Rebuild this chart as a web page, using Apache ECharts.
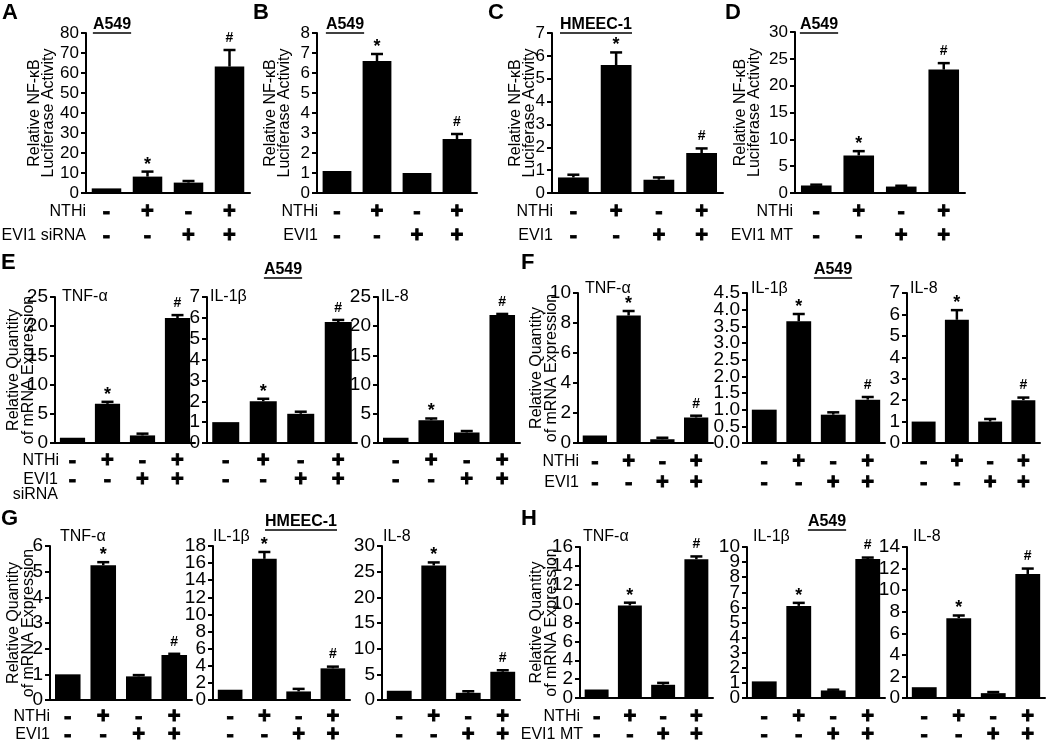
<!DOCTYPE html>
<html><head><meta charset="utf-8">
<script src="https://cdn.jsdelivr.net/npm/echarts@6/dist/echarts.min.js"></script>
<style>html,body{margin:0;padding:0;background:#fff}#c{width:1050px;height:740px}</style>
</head><body><div id="c"></div>
<script>
// ---------- DATA ----------
const nthi = ['-', '+', '-', '+'];
const evi1 = ['-', '-', '+', '+'];
const marks = ['', '*', '', '#'];
const genes = ['TNF-α', 'IL-1β', 'IL-8'];
const lucName = 'Relative NF-κB\nLuciferase Activity';
const mrnaName = 'Relative Quantity\nof mRNA Expression';

// Panel A (A549, EVI1 siRNA) luciferase
const aVals = [2.3, 8.2, 5.2, 63.2];   const aErr = [0, 2.5, 0.8, 8.3];
// Panel B (A549, EVI1)
const bVals = [1.1, 6.6, 1.0, 2.7];    const bErr = [0, 0.35, 0, 0.25];
// Panel C (HMEEC-1, EVI1)
const cVals = [0.68, 5.6, 0.58, 1.75]; const cErr = [0.12, 0.55, 0.1, 0.2];
// Panel D (A549, EVI1 MT)
const dVals = [1.4, 7.0, 1.2, 23.0];   const dErr = [0.15, 0.8, 0.15, 1.2];
// Panel E (A549, EVI1 siRNA) TNF-α, IL-1β, IL-8
const e1Vals = [0.9, 6.7, 1.3, 21.4];  const e1Err = [0, 0.35, 0.3, 0.5];
const e2Vals = [1.0, 2.0, 1.4, 5.8];   const e2Err = [0, 0.12, 0.1, 0.1];
const e3Vals = [0.9, 3.9, 1.8, 21.9];  const e3Err = [0, 0.3, 0.25, 0.2];
// Panel F (A549, EVI1)
const f1Vals = [0.5, 8.5, 0.25, 1.7];  const f1Err = [0, 0.3, 0.1, 0.12];
const f2Vals = [1.0, 3.65, 0.85, 1.3]; const f2Err = [0, 0.22, 0.07, 0.08];
const f3Vals = [1.0, 5.75, 1.0, 2.0];  const f3Err = [0, 0.45, 0.12, 0.12];
// Panel G (HMEEC-1, EVI1)
const g1Vals = [1.0, 5.25, 0.92, 1.75]; const g1Err = [0, 0.12, 0.05, 0.05];
const g2Vals = [1.2, 16.5, 1.0, 3.7];   const g2Err = [0, 0.8, 0.3, 0.2];
const g3Vals = [1.8, 26.2, 1.4, 5.5];   const g3Err = [0, 0.6, 0.3, 0.3];
// Panel H (A549, EVI1 MT)
const h1Vals = [0.9, 9.8, 1.4, 14.7];  const h1Err = [0, 0.3, 0.2, 0.3];
const h2Vals = [1.1, 6.1, 0.5, 9.2];   const h2Err = [0, 0.2, 0.05, 0.1];
const h3Vals = [1.0, 7.4, 0.45, 11.5]; const h3Err = [0, 0.25, 0.1, 0.5];

// y-axis ranges [max, interval]
const aAxis = [80, 10], bAxis = [8, 1], cAxis = [7, 1], dAxis = [30, 5];
const e1Axis = [25, 5], e2Axis = [7, 1], e3Axis = [25, 5];
const f1Axis = [10, 2], f2Axis = [4.5, 0.5], f3Axis = [7, 1];
const g1Axis = [6, 1], g2Axis = [18, 2], g3Axis = [30, 5];
const h1Axis = [16, 2], h2Axis = [10, 1], h3Axis = [14, 2];

// ---------- LAYOUT ----------
const FONT = "'Liberation Sans', Arial, Helvetica, sans-serif";
const rowStyle = {
  top: {lh: 24, margin: 7},
  E: {lh: 19, margin: 8},
  F: {lh: 21, margin: 8},
  G: {lh: 18, margin: 8},
  H: {lh: 18, margin: 10}
};
const panels = [
  {v: aVals, e: aErr, ax: aAxis, box: [86, 33, 250, 193], row: 'top', tfs: 17, name: lucName, gap: 30, nlh: 14},
  {v: bVals, e: bErr, ax: bAxis, box: [317, 33, 477, 193], row: 'top', tfs: 17, name: lucName, gap: 25, nlh: 14},
  {v: cVals, e: cErr, ax: cAxis, box: [552, 33, 723, 193], row: 'top', tfs: 17, name: lucName, gap: 15, nlh: 14},
  {v: dVals, e: dErr, ax: dAxis, box: [795, 32, 965, 193], row: 'top', tfs: 17, name: lucName, gap: 33, nlh: 14},
  {v: e1Vals, e: e1Err, ax: e1Axis, box: [55, 297, 195, 443], row: 'E', tfs: 19, name: mrnaName, gap: 19, nlh: 15},
  {v: e2Vals, e: e2Err, ax: e2Axis, box: [207, 297, 357, 443], row: 'E', tfs: 19},
  {v: e3Vals, e: e3Err, ax: e3Axis, box: [378, 297, 520, 443], row: 'E', tfs: 19},
  {v: f1Vals, e: f1Err, ax: f1Axis, box: [578, 293, 713, 443], row: 'F', tfs: 19, name: mrnaName, gap: 19, nlh: 15},
  {v: f2Vals, e: f2Err, ax: f2Axis, box: [747, 293, 885, 443], row: 'F', tfs: 19, dec: 1},
  {v: f3Vals, e: f3Err, ax: f3Axis, box: [907, 293, 1040, 443], row: 'F', tfs: 19},
  {v: g1Vals, e: g1Err, ax: g1Axis, box: [50, 546, 192, 700], row: 'G', tfs: 19, name: mrnaName, gap: 14, nlh: 15},
  {v: g2Vals, e: g2Err, ax: g2Axis, box: [213, 546, 350, 700], row: 'G', tfs: 19},
  {v: g3Vals, e: g3Err, ax: g3Axis, box: [382, 546, 520, 700], row: 'G', tfs: 19},
  {v: h1Vals, e: h1Err, ax: h1Axis, box: [580, 547, 713, 698], row: 'H', tfs: 19, name: mrnaName, gap: 21, nlh: 15},
  {v: h2Vals, e: h2Err, ax: h2Axis, box: [747, 547, 885, 698], row: 'H', tfs: 19},
  {v: h3Vals, e: h3Err, ax: h3Axis, box: [907, 547, 1045, 698], row: 'H', tfs: 19}
];

const cats = nthi.map((n, i) => n + '\n' + evi1[i]);

const grid = [], xAxis = [], yAxis = [], series = [];
panels.forEach((p, i) => {
  const [l, t, r, b] = p.box;
  grid.push({left: l, top: t, width: r - l, height: b - t, containLabel: false, outerBoundsMode: 'none'});
  const rs = rowStyle[p.row];
  xAxis.push({
    gridIndex: i, type: 'category', data: cats,
    axisLine: {show: true, lineStyle: {color: '#000', width: 2}},
    axisTick: {show: false},
    axisLabel: {interval: 0, margin: rs.margin, lineHeight: rs.lh, fontSize: 22, fontWeight: 'bold', color: '#000',
      textBorderColor: '#000', textBorderWidth: 0.9, fontFamily: FONT, hideOverlap: false}
  });
  const nTicks = Math.round(p.ax[0] / p.ax[1]) + 1;
  const fmt = v => p.dec ? v.toFixed(p.dec) : String(v);
  const inner = idx => idx === 1 || idx === nTicks - 2;
  const labelBase = {margin: 7, color: '#000', fontSize: p.tfs, fontFamily: FONT, hideOverlap: false};
  // main axis: line, ticks and all labels except the two next to the ends
  const y = {
    gridIndex: i, type: 'value', position: 'left', min: 0, max: p.ax[0], interval: p.ax[1],
    axisLine: {show: true, lineStyle: {color: '#000', width: 2}},
    axisTick: {show: true, length: 5, lineStyle: {color: '#000', width: 2}},
    axisLabel: Object.assign({showMinLabel: true, showMaxLabel: true,
      formatter: (v, idx) => inner(idx) ? '' : fmt(v)}, labelBase),
    splitLine: {show: false},
    nameMoveOverlap: false
  };
  if (p.name) {
    y.name = p.name; y.nameLocation = 'middle'; y.nameGap = p.gap;
    y.nameTextStyle = {fontSize: 16, lineHeight: p.nlh, color: '#000', fontFamily: FONT};
  }
  yAxis.push(y);
  // companion axis at the same place: only the labels next to the ends
  yAxis.push({
    gridIndex: i, type: 'value', position: 'left', offset: 0, min: 0, max: p.ax[0], interval: p.ax[1],
    axisLine: {show: false}, axisTick: {show: false}, splitLine: {show: false},
    axisLabel: Object.assign({showMinLabel: false, showMaxLabel: false,
      formatter: (v, idx) => inner(idx) ? fmt(v) : ''}, labelBase)
  });
  const yi = 2 * i;
  series.push({
    type: 'bar', xAxisIndex: i, yAxisIndex: yi, data: p.v, barWidth: '72%',
    itemStyle: {color: '#000'}, silent: true
  });
  series.push({
    type: 'custom', xAxisIndex: i, yAxisIndex: yi, z: 5, silent: true, clip: false,
    encode: {x: 0, y: 1},
    data: p.v.map((v, j) => [j, v, p.e[j]]),
    renderItem: (params, api) => {
      const j = api.value(0), v = api.value(1), e = api.value(2);
      const base = api.coord([j, v]);
      const top = api.coord([j, v + e]);
      const children = [];
      if (e > 0) {
        children.push({type: 'line', shape: {x1: base[0], y1: base[1], x2: top[0], y2: top[1]}, style: {stroke: '#000', lineWidth: 2.5}});
        children.push({type: 'line', shape: {x1: top[0] - 6, y1: top[1], x2: top[0] + 6, y2: top[1]}, style: {stroke: '#000', lineWidth: 2.5}});
      }
      const m = marks[j];
      if (m) {
        const star = m === '*';
        children.push({type: 'text', style: {
          text: m, x: top[0], y: top[1] - (star ? 7 : 12),
          font: 'bold ' + (star ? 18 : 14) + 'px ' + FONT, fill: '#000',
          align: 'center', verticalAlign: 'middle', textAlign: 'center', textVerticalAlign: 'middle'}});
      }
      return {type: 'group', children};
    }
  });
});

// ---------- TEXT ----------
const meas = document.createElement('canvas').getContext('2d');
function tw(s, font) { meas.font = font; return meas.measureText(s).width; }
const graphics = [];
function txt(x, y, s, font, align, lh) {
  graphics.push({type: 'text', x, y, silent: true, style: {text: s, font, fill: '#000',
    align: align, verticalAlign: 'middle', textAlign: align, textVerticalAlign: 'middle', lineHeight: lh}});
}
const LET = 'bold 22px ' + FONT, TIT = 'bold 16px ' + FONT, REG = '16px ' + FONT;
[['A', 2, 13], ['B', 253, 13], ['C', 488, 13], ['D', 725, 13],
 ['E', 1, 263], ['F', 521, 263], ['G', 1, 519], ['H', 521, 519]].forEach(a => txt(a[1], a[2], a[0], LET, 'left'));
[['A549', 112, 25], ['A549', 345, 25], ['HMEEC-1', 596, 25], ['A549', 819, 25],
 ['A549', 283, 270], ['A549', 833, 270], ['HMEEC-1', 301, 522], ['A549', 827, 522]].forEach(a => {
  txt(a[1], a[2], a[0], TIT, 'center');
  const w = tw(a[0], TIT);
  graphics.push({type: 'line', silent: true, shape: {x1: a[1] - w / 2, y1: a[2] + 8, x2: a[1] + w / 2, y2: a[2] + 8}, style: {stroke: '#000', lineWidth: 1.5}});
});
[[62, 297], [210, 297], [381, 297], [585, 289], [751, 289], [910, 289],
 [60, 537], [213, 537], [383, 537], [583, 537], [753, 537], [913, 537]].forEach((a, i) => txt(a[0], a[1], genes[i % 3], REG, 'left'));
[['NTHi', 86, 212], ['EVI1 siRNA', 86, 236],
 ['NTHi', 318, 212], ['EVI1', 318, 236],
 ['NTHi', 553, 212], ['EVI1', 553, 236],
 ['NTHi', 793, 212], ['EVI1 MT', 793, 236],
 ['NTHi', 59, 461], ['EVI1\nsiRNA', 58, 487],
 ['NTHi', 579, 462], ['EVI1', 579, 483],
 ['NTHi', 50, 717], ['EVI1', 50, 735],
 ['NTHi', 580, 717], ['EVI1 MT', 583, 735]].forEach(a => txt(a[1], a[2], a[0], REG, 'right', 15));

const chart = echarts.init(document.getElementById('c'), null, {renderer: 'canvas'});
chart.setOption({
  animation: false, backgroundColor: '#fff',
  grid, xAxis, yAxis, series,
  graphic: {elements: graphics}
});
</script></body></html>
